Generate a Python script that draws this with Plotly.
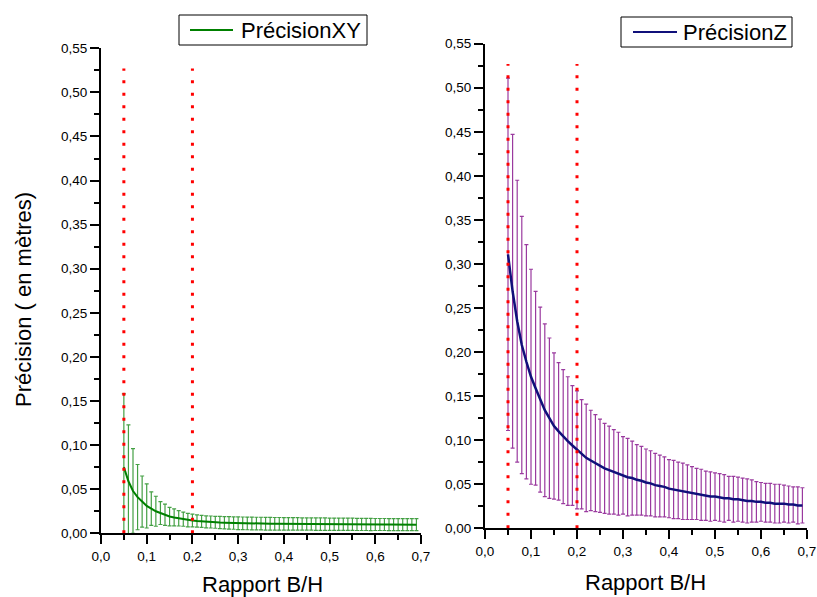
import plotly.graph_objects as go

# ---------------- data ----------------
rapport_bh = [0.05, 0.06, 0.07, 0.08, 0.09, 0.10, 0.11, 0.12, 0.13, 0.14,
              0.15, 0.16, 0.17, 0.18, 0.19, 0.20, 0.21, 0.22, 0.23, 0.24,
              0.25, 0.26, 0.27, 0.28, 0.29, 0.30, 0.31, 0.32, 0.33, 0.34,
              0.35, 0.36, 0.37, 0.38, 0.39, 0.40, 0.41, 0.42, 0.43, 0.44,
              0.45, 0.46, 0.47, 0.48, 0.49, 0.50, 0.51, 0.52, 0.53, 0.54,
              0.55, 0.56, 0.57, 0.58, 0.59, 0.60, 0.61, 0.62, 0.63, 0.64,
              0.65, 0.66, 0.67, 0.68, 0.69]

precision_xy = [0.075, 0.059, 0.048, 0.041, 0.036, 0.031, 0.028, 0.025, 0.023, 0.021,
                0.019, 0.018, 0.017, 0.016, 0.015, 0.0145, 0.014, 0.0135, 0.013, 0.0128,
                0.0125, 0.0122, 0.012, 0.0118, 0.0116, 0.0114, 0.0113, 0.0112, 0.0111, 0.011,
                0.011, 0.0109, 0.0109, 0.0108, 0.0108, 0.0107, 0.0107, 0.0106, 0.0106, 0.0105,
                0.0105, 0.0105, 0.0104, 0.0104, 0.0104, 0.0103, 0.0103, 0.0103, 0.0102, 0.0102,
                0.0102, 0.0101, 0.0101, 0.0101, 0.0100, 0.0100, 0.0100, 0.0100, 0.0099, 0.0099,
                0.0099, 0.0099, 0.0098, 0.0098, 0.0098]

erreur_xy = [0.083, 0.064, 0.048, 0.037, 0.029, 0.025, 0.019, 0.017, 0.013, 0.012,
             0.0105, 0.0096, 0.0087, 0.0080, 0.0077, 0.0072, 0.0070, 0.0068, 0.0068, 0.0068,
             0.0068, 0.0070, 0.0070, 0.0070, 0.0070, 0.0072, 0.0072, 0.0072, 0.0072, 0.0072,
             0.0072, 0.0072, 0.0072, 0.0071, 0.0071, 0.0071, 0.0071, 0.0071, 0.0071, 0.0070,
             0.0070, 0.0070, 0.0070, 0.0070, 0.0070, 0.0070, 0.0070, 0.0069, 0.0069, 0.0069,
             0.0069, 0.0069, 0.0069, 0.0069, 0.0069, 0.0068, 0.0068, 0.0068, 0.0068, 0.0068,
             0.0068, 0.0068, 0.0068, 0.0068, 0.0068]

precision_z = [0.311, 0.269, 0.235, 0.208, 0.189, 0.172, 0.159, 0.146, 0.134, 0.125,
               0.116, 0.110, 0.104, 0.099, 0.094, 0.089, 0.084, 0.080, 0.077, 0.074,
               0.071, 0.068, 0.066, 0.064, 0.062, 0.060, 0.058, 0.057, 0.055, 0.054,
               0.052, 0.051, 0.049, 0.048, 0.047, 0.045, 0.044, 0.043, 0.042, 0.041,
               0.040, 0.039, 0.038, 0.037, 0.036, 0.036, 0.035, 0.034, 0.034, 0.033,
               0.033, 0.032, 0.031, 0.031, 0.030, 0.030, 0.029, 0.029, 0.028, 0.028,
               0.028, 0.027, 0.027, 0.026, 0.026]

erreur_z = [0.200, 0.178, 0.160, 0.146, 0.133, 0.122, 0.110, 0.105, 0.098, 0.091,
            0.083, 0.078, 0.076, 0.073, 0.068, 0.067, 0.062, 0.061, 0.057, 0.055,
            0.053, 0.051, 0.050, 0.048, 0.047, 0.044, 0.044, 0.042, 0.040, 0.039,
            0.038, 0.037, 0.036, 0.035, 0.034, 0.033, 0.033, 0.032, 0.032, 0.031,
            0.030, 0.029, 0.029, 0.028, 0.028, 0.027, 0.027, 0.027, 0.025, 0.026,
            0.025, 0.025, 0.025, 0.024, 0.023, 0.022, 0.022, 0.022, 0.022, 0.022,
            0.021, 0.021, 0.020, 0.021, 0.020]

seuils_bh = [0.05, 0.2]          # dotted red reference lines
hauteur_seuil = 0.527
noms_series = ["PrécisionXY", "PrécisionZ"]

W, H = 817, 597
FONT = "Liberation Sans, Arial, sans-serif"
COL_XY, COL_Z = "#008000", "#10107a"

def px_x(p):
    return p / W

def px_y(p):
    return 1 - p / H

fig = go.Figure()

fig.add_trace(go.Scatter(
    x=rapport_bh, y=precision_xy, mode="lines", name=noms_series[0],
    line=dict(color=COL_XY, width=2),
    error_y=dict(type="data", array=erreur_xy, visible=True,
                 color="#44a044", thickness=1.2, width=2),
    xaxis="x", yaxis="y", showlegend=False))

fig.add_trace(go.Scatter(
    x=rapport_bh, y=precision_z, mode="lines", name=noms_series[1],
    line=dict(color=COL_Z, width=2.5),
    error_y=dict(type="data", array=erreur_z, visible=True,
                 color="#9a3a9f", thickness=1.2, width=2),
    xaxis="x2", yaxis="y2", showlegend=False))

shapes = []
for xr, yr in (("x", "y"), ("x2", "y2")):
    for s in seuils_bh:
        shapes.append(dict(type="line", xref=xr, yref=yr, x0=s, x1=s,
                           y0=0, y1=hauteur_seuil, layer="above",
                           line=dict(color="red", width=3, dash="3px,9.5px")))

# legend boxes (drawn in paper space): (box x0, x1, y0, y1, line x0, x1, text x, colour, name)
legendes = [
    (179, 367, 15, 45, 190, 233, 239, COL_XY, noms_series[0]),
    (621, 792, 17, 47, 633, 677, 681, COL_Z, noms_series[1]),
]
annotations = []
for bx0, bx1, by0, by1, lx0, lx1, tx, col, nom in legendes:
    shapes.append(dict(type="rect", xref="paper", yref="paper",
                       x0=px_x(bx0), x1=px_x(bx1), y0=px_y(by1), y1=px_y(by0),
                       line=dict(color="black", width=1), fillcolor="white"))
    ym = (by0 + by1) / 2
    shapes.append(dict(type="line", xref="paper", yref="paper",
                       x0=px_x(lx0), x1=px_x(lx1), y0=px_y(ym), y1=px_y(ym),
                       line=dict(color=col, width=2)))
    annotations.append(dict(text=nom, xref="paper", yref="paper",
                            x=px_x(tx), y=px_y(ym + 0.5), xanchor="left",
                            yanchor="middle", showarrow=False,
                            font=dict(family=FONT, size=22, color="black")))

def xax(domain, anchor):
    return dict(domain=domain, anchor=anchor, range=[0, 0.7], dtick=0.1,
                tick0=0, tickformat=".1f", showgrid=False, zeroline=False,
                automargin=False,
                showline=True, linecolor="black", linewidth=2,
                ticks="outside", ticklen=9, tickwidth=2, tickcolor="black",
                minor=dict(ticks="outside", ticklen=5, tickwidth=2,
                           tickcolor="black", dtick=0.05, showgrid=False),
                tickfont=dict(family=FONT, size=13.5, color="black"))

def yax(domain, anchor):
    return dict(domain=domain, anchor=anchor, range=[0, 0.55], dtick=0.05,
                tick0=0, tickformat=".2f", showgrid=False, zeroline=False,
                automargin=False,
                showline=True, linecolor="black", linewidth=2,
                ticks="outside", ticklen=9, tickwidth=2, tickcolor="black",
                minor=dict(ticks="outside", ticklen=5, tickwidth=2,
                           tickcolor="black", dtick=0.025, showgrid=False),
                tickfont=dict(family=FONT, size=13.5, color="black"))

annotations += [
    dict(text="Rapport B/H", xref="paper", yref="paper",
         x=px_x(262), y=px_y(584), xanchor="center", yanchor="middle",
         showarrow=False, font=dict(family=FONT, size=22, color="black")),
    dict(text="Rapport B/H", xref="paper", yref="paper",
         x=px_x(645), y=px_y(582), xanchor="center", yanchor="middle",
         showarrow=False, font=dict(family=FONT, size=22, color="black")),
    dict(text="Précision ( en mètres)", xref="paper", yref="paper",
         x=px_x(23), y=px_y(300), xanchor="center", yanchor="middle",
         textangle=-90, showarrow=False,
         font=dict(family=FONT, size=22, color="black")),
]

fig.update_layout(
    width=W, height=H,
    margin=dict(l=0, r=0, t=0, b=0, autoexpand=False),
    paper_bgcolor="white", plot_bgcolor="white",
    showlegend=False,
    separators=", ",
    font=dict(family=FONT, color="black"),
    xaxis=xax([px_x(101), px_x(421)], "y"),
    yaxis=yax([px_y(533.3), px_y(48.3)], "x"),
    xaxis2=xax([px_x(485), px_x(807)], "y2"),
    yaxis2=yax([px_y(528.3), px_y(43.7)], "x2"),
    shapes=shapes,
    annotations=annotations,
)

fig.write_html("out.html",
               config={"displayModeBar": False},
               post_script="document.body.style.margin='0';"
                           "document.body.style.overflow='hidden';")
